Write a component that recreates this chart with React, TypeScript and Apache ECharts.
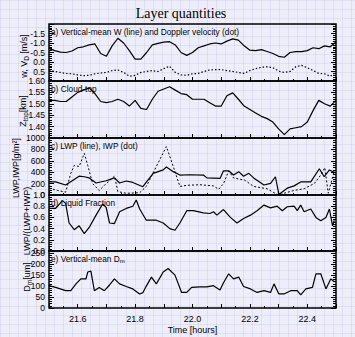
import React, { useEffect, useRef } from "react";
import * as echarts from "echarts";

// ---------- data ----------
const timeAB = [21.50, 21.52, 21.54, 21.56, 21.58, 21.60, 21.62, 21.64, 21.66, 21.68, 21.70, 21.72, 21.74, 21.76, 21.78, 21.80, 21.82, 21.84, 21.86, 21.88, 21.90, 21.92, 21.94, 21.96, 21.98, 22.00, 22.02, 22.04, 22.06, 22.08, 22.10, 22.12, 22.14, 22.16, 22.18, 22.20, 22.22, 22.24, 22.26, 22.28, 22.30, 22.32, 22.34, 22.36, 22.38, 22.40, 22.42, 22.44, 22.46, 22.48, 22.50];
const wMean = [-0.72, -0.6, -0.52, -0.5, -0.58, -0.75, -0.8, -0.9, -0.95, -0.45, -0.3, -0.85, -1.25, -1.0, -0.6, -0.15, -0.15, -0.5, -0.9, -0.98, -1.05, -1.07, -0.9, -0.5, -0.35, -0.5, -0.75, -0.85, -0.95, -1.0, -0.95, -1.1, -1.22, -1.15, -0.85, -0.62, -0.6, -0.65, -0.55, -0.45, -0.3, -0.25, -0.5, -0.55, -0.55, -0.6, -0.75, -0.7, -0.85, -0.8, -1.05];
const vDoppler = [0.42, 0.5, 0.55, 0.6, 0.62, 0.68, 0.72, 0.7, 0.62, 0.58, 0.55, 0.45, 0.42, 0.55, 0.75, 0.7, 0.55, 0.5, 0.45, 0.5, 0.35, 0.22, 0.55, 0.68, 0.7, 0.62, 0.6, 0.5, 0.42, 0.4, 0.4, 0.45, 0.5, 0.55, 0.6, 0.45, 0.35, 0.28, 0.25, 0.3, 0.48, 0.55, 0.5, 0.25, 0.18, 0.3, 0.45, 0.6, 0.62, 0.75, 0.55];
const zTop = [1.515, 1.515, 1.51, 1.51, 1.53, 1.55, 1.56, 1.57, 1.545, 1.51, 1.505, 1.51, 1.52, 1.51, 1.49, 1.515, 1.48, 1.475, 1.52, 1.555, 1.565, 1.575, 1.56, 1.545, 1.54, 1.52, 1.52, 1.52, 1.505, 1.49, 1.49, 1.535, 1.548, 1.52, 1.49, 1.475, 1.46, 1.445, 1.435, 1.42, 1.39, 1.365, 1.39, 1.395, 1.40, 1.42, 1.47, 1.515, 1.5, 1.49, 1.515];

const timeLwp = [21.500, 21.523, 21.558, 21.605, 21.623, 21.640, 21.664, 21.699, 21.728, 21.746, 21.769, 21.792, 21.827, 21.863, 21.898, 21.909, 21.933, 21.956, 21.991, 22.038, 22.050, 22.096, 22.108, 22.126, 22.143, 22.161, 22.178, 22.196, 22.213, 22.249, 22.272, 22.289, 22.301, 22.330, 22.354, 22.377, 22.412, 22.442, 22.459, 22.477, 22.494];
const lwp = [230, 230, 175, 330, 320, 300, 210, 250, 300, 210, 245, 220, 145, 380, 440, 490, 410, 350, 355, 350, 300, 290, 425, 425, 350, 410, 330, 380, 300, 175, 205, 320, 10, 120, 160, 230, 230, 460, 320, 440, 400];

const timeIwp = [21.500, 21.529, 21.558, 21.576, 21.588, 21.605, 21.623, 21.635, 21.652, 21.675, 21.699, 21.728, 21.740, 21.769, 21.816, 21.839, 21.874, 21.909, 21.933, 21.956, 21.980, 22.026, 22.073, 22.091, 22.108, 22.126, 22.143, 22.182, 22.213, 22.260, 22.284, 22.301, 22.319, 22.354, 22.389, 22.424, 22.447, 22.461, 22.473, 22.494];
const iwp = [120, 80, 50, 380, 520, 500, 730, 520, 200, 80, 200, 330, 60, 30, 40, 150, 500, 850, 500, 150, 170, 180, 160, 100, 200, 420, 300, 260, 150, 110, 40, 0, 30, 80, 110, 200, 350, 480, 30, 420];

const timeLf = [21.500, 21.523, 21.547, 21.558, 21.570, 21.588, 21.605, 21.623, 21.640, 21.664, 21.687, 21.699, 21.711, 21.728, 21.746, 21.769, 21.792, 21.804, 21.816, 21.839, 21.874, 21.898, 21.921, 21.939, 21.956, 21.980, 22.003, 22.038, 22.061, 22.073, 22.085, 22.108, 22.132, 22.155, 22.178, 22.202, 22.225, 22.249, 22.272, 22.295, 22.313, 22.330, 22.354, 22.365, 22.377, 22.389, 22.412, 22.430, 22.447, 22.465, 22.477, 22.488, 22.494];
const liqFrac = [0.76, 0.76, 0.9, 0.85, 0.5, 0.38, 0.45, 0.31, 0.42, 0.64, 0.84, 0.78, 0.5, 0.49, 0.7, 0.76, 0.8, 0.91, 0.75, 0.55, 0.55, 0.5, 0.4, 0.37, 0.5, 0.72, 0.72, 0.68, 0.67, 0.7, 0.64, 0.74, 0.6, 0.5, 0.58, 0.64, 0.72, 0.82, 0.77, 0.8, 0.72, 0.79, 0.8, 0.72, 0.82, 0.7, 0.75, 0.6, 0.54, 0.6, 0.75, 0.45, 0.55];

const timeDm = [21.500, 21.523, 21.558, 21.576, 21.594, 21.611, 21.629, 21.635, 21.646, 21.658, 21.675, 21.693, 21.711, 21.728, 21.746, 21.769, 21.792, 21.816, 21.827, 21.839, 21.857, 21.874, 21.898, 21.915, 21.939, 21.962, 21.980, 21.997, 22.026, 22.050, 22.073, 22.096, 22.108, 22.126, 22.143, 22.161, 22.178, 22.202, 22.225, 22.249, 22.272, 22.284, 22.301, 22.319, 22.342, 22.365, 22.377, 22.395, 22.418, 22.430, 22.447, 22.465, 22.482, 22.494];
const dm = [102, 94, 79, 79, 110, 133, 133, 164, 168, 79, 94, 79, 105, 133, 110, 98, 87, 64, 70, 100, 141, 110, 164, 180, 150, 71, 71, 94, 96, 96, 102, 82, 115, 156, 133, 141, 98, 87, 71, 79, 71, 110, 64, 64, 79, 79, 60, 87, 94, 156, 156, 87, 133, 120];

const xTickLabels = ["21.6", "21.8", "22.0", "22.2", "22.4"];
const panelLabels = [
  "a) Vertical-mean W (line) and Doppler velocity (dot)",
  "b) Cloud-top",
  "c) LWP (line), IWP (dot)",
  "d) Liquid Fraction",
  "{n|e) Vertical-mean D}{s|m}",
];
const axisNames = [
  "{n|w, V}{s|D}{n| [m/s]}",
  "{n|Z}{s|top}{n|[km]}",
  "{n|LWP,IWP[g/m²]}",
  "{n|LWP/(LWP+IWP)}",
  "{n|D}{s|m}{n|[um]}",
];

// ---------- layout ----------
const FONT = "'Liberation Sans', Arial, sans-serif";
const tops = [24, 81, 138, 195, 251];
const heights = [57, 57, 57, 56, 57];
const namePos = [
  [24, 56],
  [23, 111],
  [16, 168],
  [27, 221],
  [27, 277],
];
const yCfg = [
  { min: -2, max: 1, interval: 0.5, inverse: true, dec: 1, showMin: false, showMax: false },
  { min: 1.35, max: 1.6, interval: 0.05, inverse: false, dec: 2, showMin: false, showMax: true },
  { min: 0, max: 1000, interval: 200, inverse: false, dec: 0, showMin: true, showMax: true },
  { min: 0, max: 1, interval: 0.2, inverse: false, dec: 1, showMin: true, showMax: true },
  { min: 0, max: 260, interval: 50, inverse: false, dec: 0, showMin: true, showMax: false },
];

const zip = (t: number[], v: number[]) => t.map((x, i) => [x, v[i]]);

export default function App() {
  const ref = useRef<HTMLDivElement>(null);
  useEffect(() => {
    if (!ref.current) return;
    const chart = echarts.init(ref.current, null, { renderer: "svg" });
    const grid = tops.map((top, i) => ({
      left: 49,
      right: 19,
      top,
      height: heights[i],
      show: true,
      borderColor: "#000",
      borderWidth: 1.5,
      backgroundColor: "transparent",
    }));
    const xAxis = tops.map((_, i) => ({
      type: "value",
      gridIndex: i,
      min: 21.5,
      max: 22.5,
      interval: 0.1,
      axisLine: { show: false, onZero: false },
      splitLine: { show: false },
      axisTick: { show: true, inside: true, length: 4, lineStyle: { color: "#000" } },
      minorTick: { show: true, splitNumber: 2, length: 2, lineStyle: { color: "#000" } },
      axisLabel:
        i === 4
          ? {
              show: true,
              margin: 6,
              fontSize: 9,
              fontFamily: FONT,
              color: "#000",
              formatter: (v: number) => {
                const s = v.toFixed(1);
                return xTickLabels.includes(s) ? s : "";
              },
            }
          : { show: false },
      name: i === 4 ? "Time [hours]" : "",
      nameLocation: "middle",
      nameGap: 17,
      nameTextStyle: { fontSize: 9, fontFamily: FONT, color: "#000" },
    }));
    const yLeft = yCfg.map((c, i) => ({
      type: "value",
      gridIndex: i,
      position: "left",
      min: c.min,
      max: c.max,
      interval: c.interval,
      inverse: c.inverse,
      axisLine: { show: false, onZero: false },
      splitLine: { show: false },
      axisTick: { show: true, inside: true, length: 5, lineStyle: { color: "#000" } },
      minorTick: { show: true, splitNumber: 5, length: 3, lineStyle: { color: "#000" } },
      axisLabel: {
        show: true,
        margin: 4,
        fontSize: 8.5,
        fontFamily: FONT,
        color: "#000",
        showMinLabel: c.showMin,
        showMaxLabel: c.showMax,
        formatter: (v: number) => v.toFixed(c.dec),
      },
    }));
    const yRight = yCfg.map((c, i) => ({
      type: "value",
      gridIndex: i,
      position: "right",
      min: c.min,
      max: c.max,
      interval: c.interval,
      inverse: c.inverse,
      axisLine: { show: false, onZero: false },
      splitLine: { show: false },
      axisTick: { show: true, inside: true, length: 5, lineStyle: { color: "#000" } },
      minorTick: { show: true, splitNumber: 5, length: 3, lineStyle: { color: "#000" } },
      axisLabel: { show: false },
    }));
    const solid = { color: "#000", width: 1.2 };
    const dotted = { color: "#000", width: 1.2, type: [1.5, 2] };
    const dashed = { color: "#000", width: 1, type: [2, 2] };
    const mk = (xi: number, yi: number, data: number[][], ls: any) => ({
      type: "line",
      xAxisIndex: xi,
      yAxisIndex: yi,
      data,
      showSymbol: false,
      silent: true,
      lineStyle: ls,
      clip: true,
    });
    const series = [
      mk(0, 0, zip(timeAB, wMean), solid),
      mk(0, 0, zip(timeAB, vDoppler), dotted),
      mk(1, 1, zip(timeAB, zTop), solid),
      mk(2, 2, zip(timeLwp, lwp), solid),
      mk(2, 2, zip(timeIwp, iwp), dashed),
      mk(3, 3, zip(timeLf, liqFrac), solid),
      mk(4, 4, zip(timeDm, dm), solid),
    ];
    const richLabel = {
      n: { fontSize: 8.3, fontFamily: FONT, fill: "#000" },
      s: { fontSize: 6, fontFamily: FONT, fill: "#000", padding: [4, 0, 0, 0] },
    };
    const richName = {
      n: { fontSize: 9, fontFamily: FONT, fill: "#000" },
      s: { fontSize: 6.5, fontFamily: FONT, fill: "#000", padding: [4, 0, 0, 0] },
    };
    const graphic = [
      {
        type: "text",
        x: 181,
        y: 13,
        style: {
          text: "Layer quantities",
          font: "14px 'Liberation Serif', 'Times New Roman', serif",
          fill: "#000",
          textAlign: "center",
          textVerticalAlign: "middle",
        },
      },
      ...panelLabels.map((t, i) => ({
        type: "text",
        x: 51,
        y: tops[i] + 8,
        style: {
          text: t.startsWith("{") ? t : `{n|${t}}`,
          fill: "#000",
          textVerticalAlign: "middle",
          rich: richLabel,
        },
      })),
      ...axisNames.map((t, i) => ({
        type: "text",
        x: namePos[i][0],
        y: namePos[i][1],
        rotation: Math.PI / 2,
        style: {
          text: t,
          fill: "#000",
          textAlign: "center",
          textVerticalAlign: "middle",
          rich: richName,
        },
      })),
    ];
    chart.setOption({
      animation: false,
      backgroundColor: "transparent",
      grid,
      xAxis,
      yAxis: [...yLeft, ...yRight],
      series,
      graphic,
    });
    return () => chart.dispose();
  }, []);
  return (
    <div
      ref={ref}
      style={{
        position: "absolute",
        left: 0,
        top: 0,
        width: 355,
        height: 337,
        backgroundColor: "#eeeefb",
        backgroundImage:
          "linear-gradient(to right, rgba(205,205,232,0.45) 1px, transparent 1px), linear-gradient(to bottom, rgba(205,205,232,0.45) 1px, transparent 1px)",
        backgroundSize: "9px 9px",
      }}
    />
  );
}
